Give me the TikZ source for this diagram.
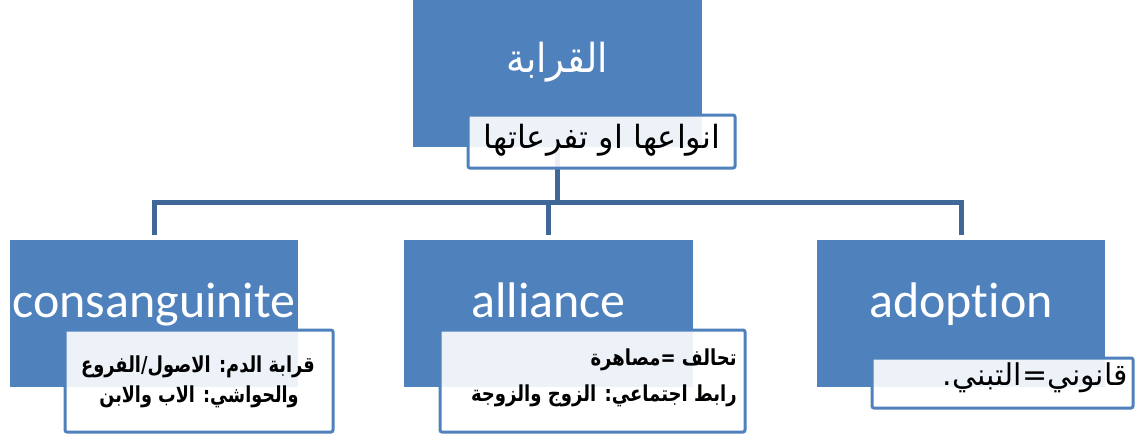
\documentclass[tikz,border=0pt]{standalone}
\usepackage{fontspec}
\setmainfont{Carlito}[Ligatures=NoCommon]
\newfontfamily\arabicfont[Script=Arabic]{DejaVu Sans}
\TeXXeTstate=1
\definecolor{accent}{HTML}{4F81BD}
\definecolor{conncol}{HTML}{3F6898}
\tikzset{
  bluebox/.style={fill=accent, draw=none, inner sep=0pt, minimum width=289pt, minimum height=147pt},
  subbox/.style={draw=accent, line width=3pt, fill=white, fill opacity=0.9, rounded corners=2pt, inner sep=0pt},
  connline/.style={draw=conncol, line width=5pt, shorten >=5pt},
  entext/.style={text=white, font=\fontsize{50}{60}\selectfont, anchor=base, inner sep=0pt},
  artext/.style={inner sep=0pt, anchor=base},
}
\newcommand{\boldar}[2]{\scalebox{#1}[1]{\arabicfont\bfseries\fontsize{22}{26}\selectfont #2}}
\begin{document}
\begin{tikzpicture}[x=1pt,y=-1pt]
\path[use as bounding box, fill=white] (0,0) rectangle (1135,434);
% main boxes
\node[bluebox] (root) at (557.5,73.5) {};
\node[bluebox, minimum width=288pt] (c1) at (154,313.5) {};
\node[bluebox] (c2) at (548.5,313.5) {};
\node[bluebox, minimum width=288pt] (c3) at (961,313.5) {};
% connectors
\draw[connline] (root.south) -- ++(0,55.5) coordinate (j0) -| (c1.north);
\draw[connline] (j0) -| (c3.north);
\draw[connline] (j0 -| c2.north) -- (c2.north);
% sub boxes
\node[subbox, minimum width=267pt, minimum height=53pt] (rs) at (601.5,141.5) {};
\node[subbox, minimum width=268pt, minimum height=102pt] (s1) at (199,381) {};
\node[subbox, minimum width=305pt, minimum height=102pt] (s2) at (592.5,381) {};
\node[subbox, minimum width=261pt, minimum height=50pt] (s3) at (1002.5,383) {};
% texts
\node[artext, text=white] (rt) at (557,72) {\scalebox{0.93}[1]{\arabicfont\fontsize{40}{48}\selectfont\beginR القرابة\endR}};
\node[artext] (rst) at (602,148) {\arabicfont\fontsize{32}{38}\selectfont\beginR انواعها او تفرعاتها\endR};
\node[entext] (t1) at (154,317) {consanguinite};
\node[entext] (t2) at (548.5,317) {alliance};
\node[entext] (t3) at (961,317) {adoption};
\node[artext] (s1a) at (198,372) {\boldar{0.81}{\beginR قرابة الدم: الاصول/الفروع\endR}};
\node[artext] (s1b) at (199,402) {\boldar{0.80}{\beginR والحواشي: الاب والابن\endR}};
\node[artext, anchor=base east] (s2a) at (737,365) {\boldar{0.82}{\beginR تحالف =مصاهرة\endR}};
\node[artext, anchor=base east] (s2b) at (737,401) {\boldar{0.82}{\beginR رابط اجتماعي: الزوج والزوجة\endR}};
\node[artext, anchor=base east] (s3a) at (1128,385) {\arabicfont\fontsize{30}{36}\selectfont\beginR قانوني=التبني.\endR};
\end{tikzpicture}
\end{document}
